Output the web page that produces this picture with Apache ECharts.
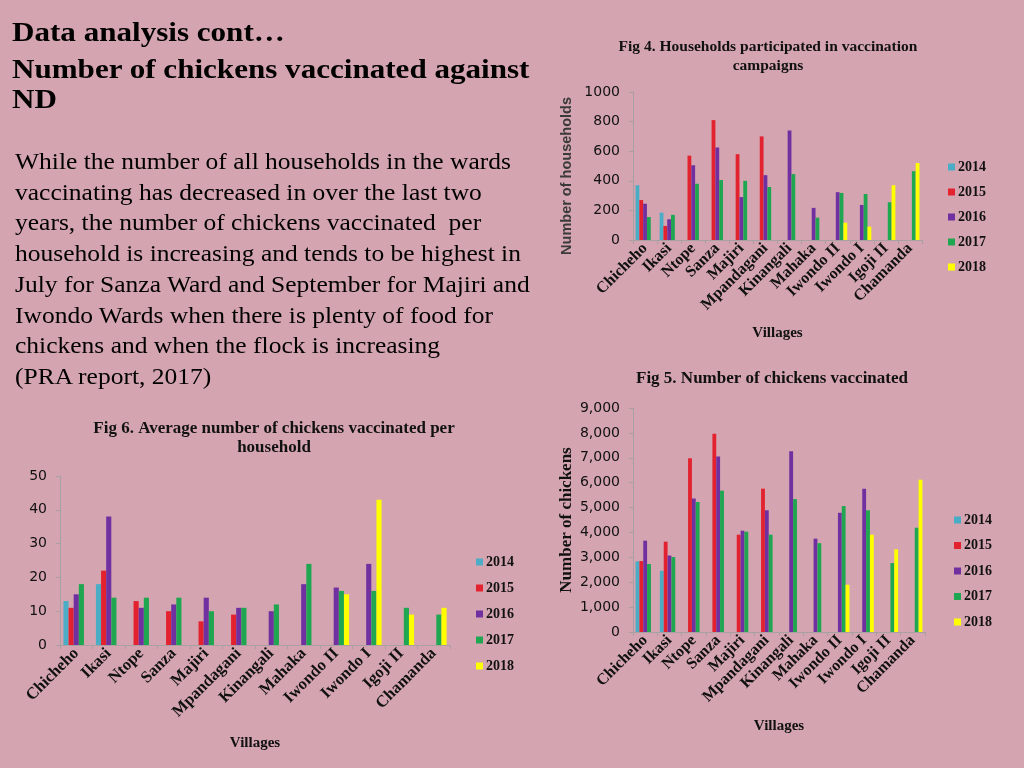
<!DOCTYPE html>
<html>
<head>
<meta charset="utf-8">
<script src="https://cdn.jsdelivr.net/npm/echarts@6/dist/echarts.min.js"></script>
<style>
html,body{margin:0;padding:0;width:1024px;height:768px;background:#d4a5b0;overflow:hidden;}
#chart{position:absolute;left:0;top:0;width:1024px;height:768px;}
.txt{position:absolute;font-family:"Liberation Serif","Times New Roman",serif;color:#000;pointer-events:none;z-index:5;white-space:nowrap;transform-origin:0 0;}
.h{left:12px;font-size:28px;font-weight:bold;line-height:34px;transform:scaleX(1.11);}
#para{left:15px;top:147px;font-size:22.5px;line-height:30.7px;transform:scaleX(1.134);}
</style>
</head>
<body>
<div id="chart"></div>
<div class="txt h" style="top:15px">Data analysis cont…</div>
<div class="txt h" style="top:52px">Number of chickens vaccinated against</div>
<div class="txt h" style="top:82px">ND</div>
<div id="para" class="txt">While the number of all households in the wards<br>vaccinating has decreased in over the last two<br>years, the number of chickens vaccinated&nbsp; per<br>household is increasing and tends to be highest in<br>July for Sanza Ward and September for Majiri and<br>Iwondo Wards when there is plenty of food for<br>chickens and when the flock is increasing<br>(PRA report, 2017)</div>
<script>
const villages = ["Chicheho","Ikasi","Ntope","Sanza","Majiri","Mpandagani","Kinangali","Mahaka","Iwondo II","Iwondo I","Igoji II","Chamanda"];
const years = ["2014","2015","2016","2017","2018"];
const yearColors = ["#4bacc6","#e3222f","#7030a0","#1fa650","#ffff00"];

// Fig 4: households participated
const hh2014 = [370,185,null,null,null,null,null,null,null,null,null,null];
const hh2015 = [270,95,570,810,580,700,null,null,null,null,null,null];
const hh2016 = [245,140,505,625,290,438,740,217,323,237,null,null];
const hh2017 = [155,170,380,405,400,358,445,151,318,311,255,465];
const hh2018 = [null,null,null,null,null,null,null,null,117,90,370,520];

// Fig 5: chickens vaccinated
const ch2014 = [2840,2460,null,null,null,null,null,null,null,null,null,null];
const ch2015 = [2850,3630,6980,7970,3910,5760,null,null,null,null,null,null];
const ch2016 = [3670,3070,5360,7055,4070,4890,7260,3750,4790,5760,null,null];
const ch2017 = [2730,3010,5220,5680,4030,3910,5340,3570,5060,4890,2770,4190];
const ch2018 = [null,null,null,null,null,null,null,null,1900,3910,3320,6120];

// Fig 6: average per household
const av2014 = [13,18,null,null,null,null,null,null,null,null,null,null];
const av2015 = [11,22,13,10,7,9,null,null,null,null,null,null];
const av2016 = [15,38,11,12,14,11,10,18,17,24,null,null];
const av2017 = [18,14,14,14,10,11,12,24,16,16,11,9];
const av2018 = [null,null,null,null,null,null,null,null,15,43,9,11];

const fig4Ticks = [0,200,400,600,800,1000];
const fig5Ticks = [0,1000,2000,3000,4000,5000,6000,7000,8000,9000];
const fig6Ticks = [0,10,20,30,40,50];

const serif = '"Liberation Serif","Times New Roman",serif';
const sans = '"DejaVu Sans",Verdana,sans-serif';
const axisGray = '#a8a0a2';

const figs = [
  {data:[hh2014,hh2015,hh2016,hh2017,hh2018], grid:{left:633,top:92,width:289,height:148}, ticks:fig4Ticks, fmt:v=>String(v),
   yname:'Number of households', ynameStyle:{fontFamily:'"Liberation Sans",Arial,sans-serif',fontSize:14.5,color:'#3a3a3a',padding:[0,20,0,0]}, ygap:59, xgap:86, lblSize:16},
  {data:[ch2014,ch2015,ch2016,ch2017,ch2018], grid:{left:633,top:408,width:292,height:224}, ticks:fig5Ticks, fmt:v=>v.toLocaleString('en-US'),
   yname:'Number of chickens', ynameStyle:{fontFamily:serif,fontSize:17,color:'#111'}, ygap:58, xgap:87, lblSize:16},
  {data:[av2014,av2015,av2016,av2017,av2018], grid:{left:60,top:476,width:390,height:169}, ticks:fig6Ticks, fmt:v=>String(v),
   yname:'', ynameStyle:{}, ygap:50, xgap:91, lblSize:16.5}
];

const grids=[], xAxes=[], yAxes=[], series=[];
figs.forEach((f,i)=>{
  grids.push(Object.assign({containLabel:false}, f.grid));
  xAxes.push({
    type:'category', gridIndex:i, data:villages,
    name:'Villages', nameLocation:'middle', nameGap:f.xgap,
    nameTextStyle:{fontFamily:serif,fontWeight:'bold',fontSize:15,color:'#111'},
    axisLine:{lineStyle:{color:axisGray}},
    axisTick:{show:true,lineStyle:{color:axisGray},length:4},
    axisLabel:{interval:0,rotate:45,fontFamily:serif,fontWeight:'bold',fontSize:f.lblSize,color:'#111',margin:6}
  });
  const step = f.ticks[1]-f.ticks[0];
  yAxes.push({
    type:'value', gridIndex:i, min:f.ticks[0], max:f.ticks[f.ticks.length-1], interval:step,
    name:f.yname, nameLocation:'middle', nameGap:f.ygap, nameRotate:90,
    nameTextStyle:Object.assign({fontWeight:'bold'}, f.ynameStyle),
    axisLine:{show:true,lineStyle:{color:axisGray}},
    axisTick:{show:true,lineStyle:{color:axisGray},length:4},
    splitLine:{show:false},
    axisLabel:{fontFamily:sans,fontSize:14,color:'#111',formatter:f.fmt,margin:13}
  });
  f.data.forEach((arr,k)=>{
    series.push({
      type:'bar', name:years[k], xAxisIndex:i, yAxisIndex:i, data:arr,
      itemStyle:{color:yearColors[k]}, barGap:'0%', barCategoryGap:'21%',
      legendHoverLink:false
    });
  });
});

const legendBase = {orient:'vertical', itemWidth:7, itemHeight:7, itemGap:11, icon:'rect', data:years,
  textStyle:{fontFamily:serif,fontWeight:'bold',fontSize:14,color:'#111',padding:[0,0,0,-2]}};

const chart = echarts.init(document.getElementById('chart'), null, {renderer:'canvas'});
chart.setOption({
  backgroundColor:'#d4a5b0',
  animation:false,
  grid:grids, xAxis:xAxes, yAxis:yAxes, series:series,
  legend:[
    Object.assign({}, legendBase, {left:943,top:155}),
    Object.assign({}, legendBase, {left:949,top:508,itemGap:11.5}),
    Object.assign({}, legendBase, {left:471,top:550,itemGap:12})
  ],
  graphic:[
    {type:'text', x:768, y:37, style:{text:'Fig 4. Households participated in vaccination\ncampaigns', textAlign:'center', font:'bold 15.5px '+serif, fill:'#111', lineHeight:19}},
    {type:'text', x:772, y:370, style:{text:'Fig 5. Number of chickens vaccinated', textAlign:'center', font:'bold 17px '+serif, fill:'#111'}},
    {type:'text', x:274, y:419, style:{text:'Fig 6. Average number of chickens vaccinated per\nhousehold', textAlign:'center', font:'bold 17px '+serif, fill:'#111', lineHeight:19}}
  ]
});
</script>
</body>
</html>
